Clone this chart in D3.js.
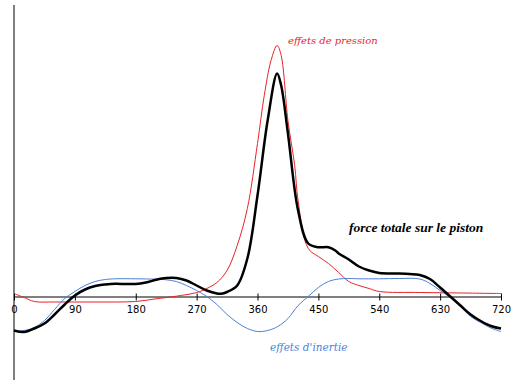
<!DOCTYPE html>
<html>
<head>
<meta charset="utf-8">
<script src="https://cdn.jsdelivr.net/npm/d3@7"></script>
<style>
  body { margin: 0; background: #fff; }
  svg { display: block; }
</style>
</head>
<body>
<svg id="chart" width="517" height="384"></svg>
<script>
// angle du vilebrequin (degrés)
const tickValues = [0, 90, 180, 270, 360, 450, 540, 630, 720];

// effets de pression
const pressionAngles = [0, 15, 30, 60, 90, 120, 150, 180, 210, 240, 270, 285, 300, 315, 330, 345, 360, 370, 380, 389, 395, 405, 415, 420, 435, 450, 465, 480, 495, 510, 525, 540, 600, 660, 720];
const pressionValues = [3, -1, -5, -5.5, -5.5, -5.5, -5.5, -5, -2.3, 0.3, 4, 8, 14, 26, 51, 88, 153, 201, 236, 251, 241, 176, 131, 96, 48, 40, 33, 24, 15, 11, 8, 5, 4, 3.5, 3];

// effets d'inertie
const inertieAngles = [0, 15, 30, 45, 60, 75, 90, 105, 120, 135, 150, 180, 210, 225, 240, 255, 270, 285, 300, 315, 330, 345, 360, 375, 390, 405, 420, 435, 450, 465, 480, 495, 510, 540, 570, 600, 615, 630, 645, 660, 675, 690, 705, 720];
const inertieValues = [-35, -34, -31, -24, -13, -2, 5, 11, 15, 17, 17.7, 17.7, 17.3, 16.7, 15, 11, 6, 0, -8, -18, -26, -32, -35, -34, -30, -22, -9, 0, 9, 15, 17.5, 18, 17.7, 17.7, 18, 17.5, 13, 6, -1, -10, -20, -26, -31.5, -35];

// force totale sur le piston
const totaleAngles = [0, 15, 30, 45, 60, 75, 90, 105, 120, 135, 150, 165, 180, 195, 210, 225, 240, 255, 270, 285, 300, 306, 315, 330, 345, 360, 375, 389, 395, 405, 420, 435, 450, 465, 475, 480, 495, 510, 525, 540, 570, 585, 600, 615, 630, 645, 660, 675, 690, 705, 720];
const totaleValues = [-34, -35.5, -32, -27, -18, -8, 1, 7, 10.5, 12, 12.7, 12.5, 12.5, 14, 16.7, 18.5, 18.5, 16, 11, 6, 3, 2.7, 4.5, 11, 38, 101, 176, 223, 211, 163, 86, 53, 49.3, 49.3, 46, 43, 37, 30, 26, 23.5, 23, 22.5, 21.5, 17.5, 9, 0, -9, -18, -24.5, -29.5, -32];

const svg = d3.select('#chart');

const xScale = d3.scaleLinear().domain([0, 720]).range([14, 501]);
const yScale = d3.scaleLinear().domain([-83.5, 291.5]).range([380, 5]);

// axe vertical
svg.append('line')
    .attr('x1', xScale(0)).attr('x2', xScale(0))
    .attr('y1', yScale.range()[1]).attr('y2', yScale.range()[0])
    .attr('stroke', '#000')
    .attr('stroke-width', 1);

// axe horizontal
const xAxis = svg.append('g')
    .attr('transform', `translate(0,${yScale(0)})`)
    .call(d3.axisBottom(xScale).tickValues(tickValues).tickSize(4).tickSizeOuter(0).tickPadding(5));

xAxis.select('.domain').attr('stroke', '#000');
xAxis.selectAll('.tick line').attr('y1', -3).attr('stroke', '#000');
xAxis.selectAll('.tick text')
    .attr('fill', '#000')
    .style('font-family', 'DejaVu Sans, sans-serif')
    .style('font-size', '10px');

const line = d3.line()
    .x(d => xScale(d[0]))
    .y(d => yScale(d[1]))
    .curve(d3.curveCatmullRom.alpha(0.5));

const zip = (a, b) => a.map((v, i) => [v, b[i]]);

svg.append('path')
    .datum(zip(pressionAngles, pressionValues))
    .attr('fill', 'none')
    .attr('stroke', '#e8232a')
    .attr('stroke-width', 1)
    .attr('d', line);

svg.append('path')
    .datum(zip(inertieAngles, inertieValues))
    .attr('fill', 'none')
    .attr('stroke', '#4d7fd6')
    .attr('stroke-width', 1)
    .attr('d', line);

svg.append('path')
    .datum(zip(totaleAngles, totaleValues))
    .attr('fill', 'none')
    .attr('stroke', '#000')
    .attr('stroke-width', 2.5)
    .attr('stroke-linejoin', 'round')
    .attr('d', line);

// étiquettes
svg.append('text')
    .attr('x', 288).attr('y', 44)
    .attr('fill', '#e8232a')
    .style('font-family', 'DejaVu Serif, serif')
    .style('font-style', 'italic')
    .style('font-size', '10px')
    .text('effets de pression');

svg.append('text')
    .attr('x', 349).attr('y', 232)
    .attr('fill', '#000')
    .style('font-family', 'Liberation Serif, serif')
    .style('font-style', 'italic')
    .style('font-weight', 'bold')
    .style('font-size', '13.5px')
    .text('force totale sur le piston');

svg.append('text')
    .attr('x', 270).attr('y', 351)
    .attr('fill', '#4d7fd6')
    .style('font-family', 'DejaVu Serif, serif')
    .style('font-style', 'italic')
    .style('font-size', '10.5px')
    .text("effets d'inertie");
</script>
</body>
</html>
